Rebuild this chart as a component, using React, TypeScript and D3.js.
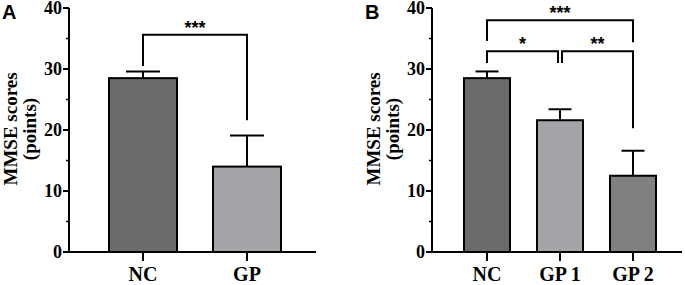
import React from "react";
import * as d3 from "d3";

const categoriesA = ["NC", "GP"];
const valuesA = [28.5, 14.0];
const errorsA = [1.1, 5.1];
const colorsA = ["#6b6b6b", "#a5a4a9"];

const categoriesB = ["NC", "GP 1", "GP 2"];
const valuesB = [28.5, 21.6, 12.5];
const errorsB = [1.1, 1.8, 4.1];
const colorsB = ["#6b6b6b", "#a5a4a9", "#808080"];

const yTicks = [0, 10, 20, 30, 40];
const yMinorTicks = [5, 15, 25, 35];

// significance brackets: [from, to, bar y, left leg end, right leg end, label]
const bracketsA = [
  { from: 0, to: 1, y: 35.6, leftEnd: 30.5, rightEnd: 21.6, label: "***" },
];
const bracketsB = [
  { from: 0, to: 2, y: 38.0, leftEnd: 34.6, rightEnd: 34.4, label: "***" },
  { from: 0, to: 1, y: 32.9, leftEnd: 31.0, rightEnd: 31.0, label: "*", shiftR: -2 },
  { from: 1, to: 2, y: 32.9, leftEnd: 31.0, rightEnd: 20.3, label: "**", shiftL: 2 },
];

const serif = "'Liberation Serif', 'Times New Roman', serif";
const sans = "'Liberation Sans', Arial, sans-serif";

type Bracket = { from: number; to: number; y: number; leftEnd: number; rightEnd: number; label: string; shiftL?: number; shiftR?: number };

function Panel(props: {
  letter: string;
  cats: string[];
  vals: number[];
  errs: number[];
  colors: string[];
  brackets: Bracket[];
  axisX: number;
  axisEnd: number;
  first: number;
  last: number;
  barW: number;
}) {
  const { letter, cats, vals, errs, colors, brackets, axisX, axisEnd, first, last, barW } = props;
  const y = d3.scaleLinear().domain([0, 40]).range([252, 8]);
  const x = d3.scalePoint<string>().domain(cats).range([first, last]);
  const y0 = y(0);
  return (
    <g>
      <text x={axisX - 67} y={19} fontFamily={sans} fontWeight="bold" fontSize={20}>
        {letter}
      </text>
      {/* y axis label */}
      <g transform={`translate(${axisX - 52},${129}) rotate(-90)`}>
        <text x={0} y={0} textAnchor="middle" fontFamily={serif} fontWeight="bold" fontSize={19}>
          MMSE scores
        </text>
        <text x={0} y={19} textAnchor="middle" fontFamily={serif} fontWeight="bold" fontSize={19}>
          (points)
        </text>
      </g>
      {/* bars */}
      {cats.map((c, i) => {
        const cx = x(c)!;
        const top = y(vals[i]);
        const et = y(vals[i] + errs[i]);
        return (
          <g key={c}>
            <line x1={cx} x2={cx} y1={top} y2={et} stroke="#000" strokeWidth={2} />
            <line x1={cx - barW / 4} x2={cx + barW / 4} y1={et} y2={et} stroke="#000" strokeWidth={2} />
            <rect x={cx - barW / 2} y={top} width={barW} height={y0 - top} fill={colors[i]} stroke="#000" strokeWidth={2} />
            <line x1={cx} x2={cx} y1={y0} y2={y0 + 9} stroke="#000" strokeWidth={2} />
            <text x={cx} y={281} textAnchor="middle" fontFamily={serif} fontWeight="bold" fontSize={20}>
              {c}
            </text>
          </g>
        );
      })}
      {/* axes */}
      <line x1={axisX} x2={axisX} y1={y(40)} y2={y0} stroke="#000" strokeWidth={2} />
      <line x1={axisX - 1} x2={axisEnd} y1={y0} y2={y0} stroke="#000" strokeWidth={2} />
      {yTicks.map((t) => (
        <g key={t}>
          <line x1={axisX - 6} x2={axisX} y1={y(t)} y2={y(t)} stroke="#000" strokeWidth={2} />
          <text x={axisX - 7} y={y(t)} dy="0.35em" textAnchor="end" fontFamily={serif} fontWeight="bold" fontSize={18}>
            {t}
          </text>
        </g>
      ))}
      {yMinorTicks.map((t) => (
        <line key={t} x1={axisX - 3} x2={axisX} y1={y(t)} y2={y(t)} stroke="#000" strokeWidth={1.5} />
      ))}
      {/* brackets */}
      {brackets.map((b, i) => {
        const xl = x(cats[b.from])! + (b.shiftL || 0);
        const xr = x(cats[b.to])! + (b.shiftR || 0);
        const by = y(b.y);
        return (
          <g key={i}>
            <path
              d={`M${xl},${y(b.leftEnd)}V${by}H${xr}V${y(b.rightEnd)}`}
              fill="none"
              stroke="#000"
              strokeWidth={2}
            />
            <text x={(xl + xr) / 2} y={by - 1} textAnchor="middle" fontFamily={sans} fontWeight="bold" fontSize={18}>
              {b.label}
            </text>
          </g>
        );
      })}
    </g>
  );
}

export default function App() {
  return (
    <svg width={685} height={285} style={{ position: "absolute", left: 0, top: 0, background: "#fff" }}>
      <rect width={685} height={285} fill="#fff" />
      <Panel
        letter="A"
        cats={categoriesA}
        vals={valuesA}
        errs={errorsA}
        colors={colorsA}
        brackets={bracketsA}
        axisX={69}
        axisEnd={316}
        first={143}
        last={247}
        barW={68}
      />
      <Panel
        letter="B"
        cats={categoriesB}
        vals={valuesB}
        errs={errorsB}
        colors={colorsB}
        brackets={bracketsB}
        axisX={432}
        axisEnd={682}
        first={487}
        last={633}
        barW={46}
      />
    </svg>
  );
}
